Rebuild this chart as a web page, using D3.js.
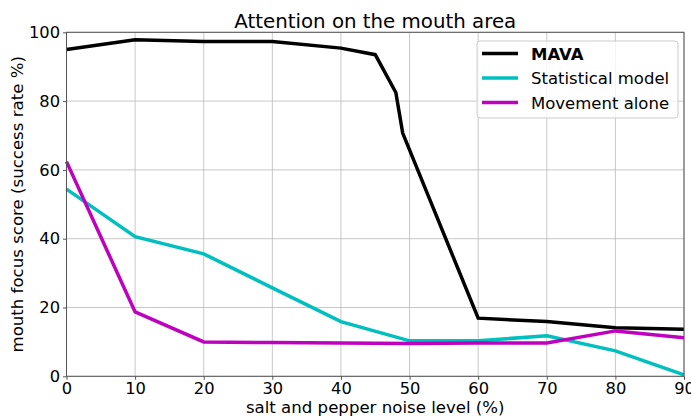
<!DOCTYPE html>
<head>
    <style>
        body { margin: 0; background: #fff; }
        svg text { font-family: "DejaVu Sans", sans-serif; fill: #000; }
        .tick text { font-size: 16.3px; }
        .grid line { stroke: #b0b0b0; stroke-opacity: 0.7; stroke-width: 1; }
        .title { font-size: 19.8px; text-anchor: middle; }
        .label { font-size: 16.6px; text-anchor: middle; }
    </style>
    <script src="https://d3js.org/d3.v7.min.js"></script>
</head>
<body>
    <svg width="691" height="417"></svg>
    <script>
        // noise levels (%) for each series
        var xMava = [0, 10, 20, 30, 40, 45, 48, 49, 60, 70, 80, 90];
        var mava = [95.0, 97.8, 97.3, 97.3, 95.4, 93.5, 82.5, 70.7, 16.9, 15.9, 14.1, 13.7];
        var xOther = [0, 10, 20, 30, 40, 50, 60, 70, 80, 90];
        var statistical = [54.4, 40.6, 35.6, 25.7, 15.9, 10.3, 10.3, 11.8, 7.4, 0.4];
        var movement = [62.4, 18.7, 10.0, 9.8, 9.7, 9.5, 9.7, 9.7, 13.2, 11.2];
        var xTicks = [0, 10, 20, 30, 40, 50, 60, 70, 80, 90];
        var yTicks = [0, 20, 40, 60, 80, 100];
        var names = ["MAVA", "Statistical model", "Movement alone"];
        var colors = ["#000000", "#00bfbf", "#bf00bf"];

        var svg = d3.select("svg");
        var margin = {left: 66.5, right: 7, top: 32.3, bottom: 40.7};
        var width = 691 - margin.left - margin.right,
            height = 417 - margin.top - margin.bottom;

        var g = svg.append("g")
                   .attr("transform", "translate(" + margin.left + "," + margin.top + ")");

        var x = d3.scaleLinear().domain([0, 90]).range([0, width]);
        var y = d3.scaleLinear().domain([0, 100]).range([height, 0]);

        // grid
        g.append("g").attr("class", "grid")
         .selectAll("line").data(xTicks).enter().append("line")
         .attr("x1", d => x(d)).attr("x2", d => x(d))
         .attr("y1", 0).attr("y2", height);
        g.append("g").attr("class", "grid")
         .selectAll("line").data(yTicks).enter().append("line")
         .attr("x1", 0).attr("x2", width)
         .attr("y1", d => y(d)).attr("y2", d => y(d));

        var series = [
            {name: names[0], xs: xMava, ys: mava, color: colors[0]},
            {name: names[1], xs: xOther, ys: statistical, color: colors[1]},
            {name: names[2], xs: xOther, ys: movement, color: colors[2]}
        ];

        var line = d3.line()
                     .x(d => x(d[0]))
                     .y(d => y(d[1]));

        series.forEach(function(s) {
            g.append("path")
             .datum(d3.zip(s.xs, s.ys))
             .attr("fill", "none")
             .attr("stroke", s.color)
             .attr("stroke-width", 3.5)
             .attr("stroke-linejoin", "miter")
             .attr("d", line);
        });

        // frame
        g.append("rect")
         .attr("width", width).attr("height", height)
         .attr("fill", "none").attr("stroke", "#555").attr("stroke-width", 1);

        var xAxis = g.append("g")
                     .attr("transform", "translate(0," + height + ")")
                     .call(d3.axisBottom(x).tickValues(xTicks).tickSize(3.5).tickPadding(3));
        var yAxis = g.append("g")
                     .call(d3.axisLeft(y).tickValues(yTicks).tickSize(3.5).tickPadding(3));
        [xAxis, yAxis].forEach(function(a) {
            a.select(".domain").remove();
            a.selectAll(".tick line").attr("stroke", "#555");
            a.selectAll("text").attr("font-family", null).attr("font-size", null);
        });

        svg.append("text").attr("class", "title")
           .attr("x", margin.left + width / 2).attr("y", 27.5)
           .text("Attention on the mouth area");

        svg.append("text").attr("class", "label")
           .attr("x", margin.left + width / 2).attr("y", 413)
           .text("salt and pepper noise level (%)");

        svg.append("text").attr("class", "label")
           .attr("transform", "translate(23," + (margin.top + height / 2) + ") rotate(-90)")
           .text("mouth focus score (success rate %)");

        // legend
        var leg = svg.append("g").attr("transform", "translate(477,41)");
        leg.append("rect")
           .attr("width", 201).attr("height", 77).attr("rx", 3)
           .attr("fill", "#fff").attr("fill-opacity", 0.8)
           .attr("stroke", "#ccc").attr("stroke-width", 1);
        series.forEach(function(s, i) {
            var row = leg.append("g").attr("transform", "translate(0," + (12.5 + i * 24.5) + ")");
            row.append("line")
               .attr("x1", 5).attr("x2", 41)
               .attr("stroke", s.color).attr("stroke-width", 3.5);
            row.append("text")
               .attr("x", 54).attr("y", 6)
               .attr("font-size", "16.5px")
               .attr("font-weight", i === 0 ? "bold" : "normal")
               .text(s.name);
        });
    </script>
</body>
</html>
